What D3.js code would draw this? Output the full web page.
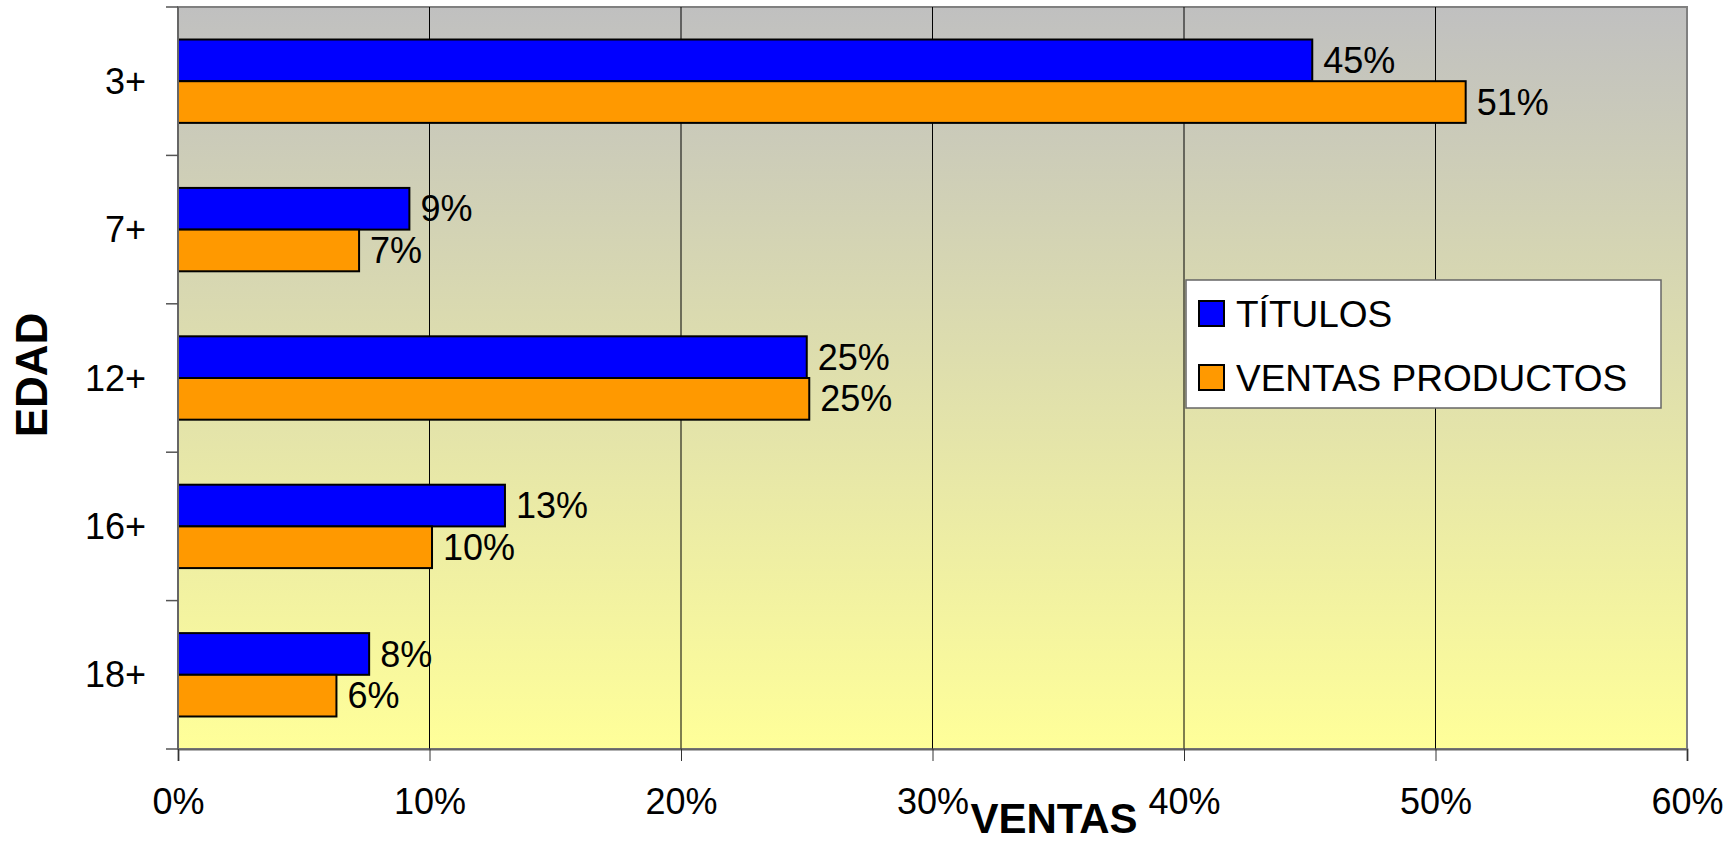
<!DOCTYPE html>
<html lang="es">
<head>
<meta charset="UTF-8">
<title>Ventas por edad</title>
<script src="https://cdn.jsdelivr.net/npm/d3@7"></script>
<style>
    body { margin: 0; background: #fff; }
    svg { display: block; font-family: "Liberation Sans", Arial, sans-serif; }
</style>
</head>
<body>
<script>
'use strict';
// datos
var categories = ['3+', '7+', '12+', '16+', '18+'];
var seriesNames = ['TÍTULOS', 'VENTAS PRODUCTOS'];
var titulos = [0.451, 0.092, 0.250, 0.130, 0.076];
var ventasProductos = [0.512, 0.072, 0.251, 0.101, 0.063];
var xTicks = [0, 0.1, 0.2, 0.3, 0.4, 0.5, 0.6];
var colors = ['#0000ff', '#ff9900'];

var W = 1736, H = 843;
var pLeft = 178, pRight = 1687, pTop = 7, pBottom = 749;

var rows = categories.map(function(c, i) {
    return { cat: c, values: [titulos[i], ventasProductos[i]] };
});

var svg = d3.select('body').append('svg')
    .attr('width', W)
    .attr('height', H);

var x = d3.scaleLinear().domain([0, 0.6]).range([pLeft, pRight]);
var y0 = d3.scaleBand().domain(categories).range([pTop, pBottom]);
var y1 = d3.scaleBand().domain(seriesNames)
    .range([0, y0.bandwidth()])
    .paddingInner(0)
    .paddingOuter(0.78);
var pct = d3.format('.0%');

// fondo degradado
var grad = svg.append('defs').append('linearGradient')
    .attr('id', 'bg')
    .attr('x1', 0).attr('y1', 0).attr('x2', 0).attr('y2', 1);
grad.append('stop').attr('offset', '0%').attr('stop-color', '#c0c0c0');
grad.append('stop').attr('offset', '100%').attr('stop-color', '#ffff99');

svg.append('rect')
    .attr('x', pLeft).attr('y', pTop)
    .attr('width', pRight - pLeft).attr('height', pBottom - pTop)
    .attr('fill', 'url(#bg)')
    .attr('stroke', '#808080')
    .attr('stroke-width', 2);

// lineas de cuadricula
svg.append('g').selectAll('line')
    .data(xTicks.slice(1, -1))
    .enter().append('line')
    .attr('x1', function(d) { return x(d); })
    .attr('x2', function(d) { return x(d); })
    .attr('y1', pTop).attr('y2', pBottom)
    .attr('stroke', '#000')
    .attr('stroke-width', 1);

// barras
var groups = svg.append('g').selectAll('g')
    .data(rows)
    .enter().append('g')
    .attr('transform', function(d) { return 'translate(0,' + y0(d.cat) + ')'; });

groups.selectAll('rect')
    .data(function(d) { return d.values; })
    .enter().append('rect')
    .attr('x', x(0))
    .attr('y', function(d, i) { return y1(seriesNames[i]); })
    .attr('width', function(d) { return x(d) - x(0); })
    .attr('height', y1.bandwidth())
    .attr('fill', function(d, i) { return colors[i]; })
    .attr('stroke', '#000')
    .attr('stroke-width', 2);

groups.selectAll('text')
    .data(function(d) { return d.values; })
    .enter().append('text')
    .attr('x', function(d) { return x(d) + 11; })
    .attr('y', function(d, i) { return y1(seriesNames[i]) + y1.bandwidth() / 2; })
    .attr('dy', '0.35em')
    .attr('font-size', 36)
    .attr('fill', '#000')
    .text(function(d) { return pct(d); });

// eje x
var xAxis = svg.append('g')
    .attr('transform', 'translate(0,' + pBottom + ')')
    .call(d3.axisBottom(x).tickValues(xTicks).tickSize(12).tickPadding(27).tickFormat(pct));
xAxis.select('.domain').attr('stroke', '#666').attr('stroke-width', 2);
xAxis.selectAll('.tick line').attr('stroke', '#333');
xAxis.selectAll('.tick text')
    .attr('font-size', 36)
    .attr('font-family', '"Liberation Sans", Arial, sans-serif')
    .attr('fill', '#000');

// eje y
svg.append('line')
    .attr('x1', pLeft).attr('x2', pLeft)
    .attr('y1', pTop).attr('y2', pBottom)
    .attr('stroke', '#666').attr('stroke-width', 2);

var edges = categories.map(function(c) { return y0(c); }).concat([pBottom]);
svg.append('g').selectAll('line')
    .data(edges)
    .enter().append('line')
    .attr('x1', pLeft - 12).attr('x2', pLeft)
    .attr('y1', function(d) { return d; })
    .attr('y2', function(d) { return d; })
    .attr('stroke', '#555')
    .attr('stroke-width', 1.5);

svg.append('g').selectAll('text')
    .data(categories)
    .enter().append('text')
    .attr('x', 146)
    .attr('y', function(d) { return y0(d) + y0.bandwidth() / 2; })
    .attr('dy', '0.35em')
    .attr('text-anchor', 'end')
    .attr('font-size', 36)
    .text(function(d) { return d; });

// titulos de ejes
svg.append('text')
    .attr('x', 1054).attr('y', 833)
    .attr('text-anchor', 'middle')
    .attr('font-size', 42)
    .attr('font-weight', 'bold')
    .text('VENTAS');

svg.append('text')
    .attr('transform', 'translate(47,375) rotate(-90)')
    .attr('text-anchor', 'middle')
    .attr('font-size', 44)
    .attr('font-weight', 'bold')
    .text('EDAD');

// leyenda
var legend = svg.append('g').attr('transform', 'translate(1186,280)');
legend.append('rect')
    .attr('width', 475).attr('height', 128)
    .attr('fill', '#fff')
    .attr('stroke', '#666')
    .attr('stroke-width', 1.5);

var items = legend.selectAll('g')
    .data(seriesNames)
    .enter().append('g')
    .attr('transform', function(d, i) { return 'translate(13,' + (21 + i * 64) + ')'; });
items.append('rect')
    .attr('width', 25).attr('height', 25)
    .attr('fill', function(d, i) { return colors[i]; })
    .attr('stroke', '#000')
    .attr('stroke-width', 2);
items.append('text')
    .attr('x', 37).attr('y', 26)
    .attr('font-size', 37)
    .text(function(d) { return d; });
</script>
</body>
</html>
